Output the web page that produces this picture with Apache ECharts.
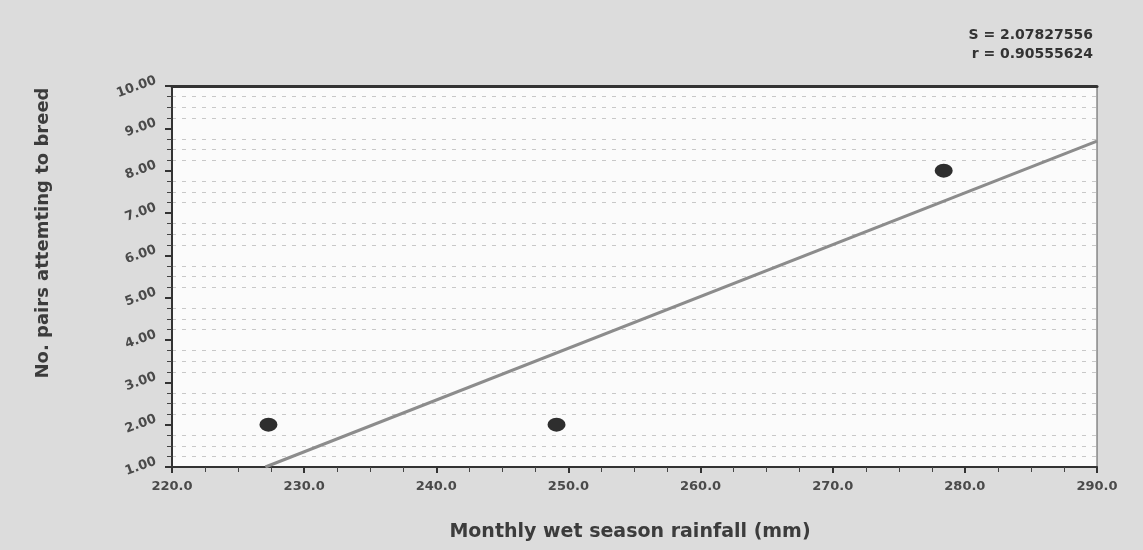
<!DOCTYPE html>
<html>
<head>
<meta charset="utf-8">
<script src="https://cdn.jsdelivr.net/npm/echarts@6/dist/echarts.min.js"></script>
<style>
html,body{margin:0;padding:0;background:#dcdcdc;}
#c{width:1143px;height:550px;}
</style>
</head>
<body>
<div id="c"></div>
<script>
// Data
const rainfall = [227.3, 249.1, 278.4];   // Monthly wet season rainfall (mm)
const pairs = [2.0, 2.0, 8.0];            // No. pairs attempting to breed
const xTicks = [220, 230, 240, 250, 260, 270, 280, 290];
const yTicks = [1, 2, 3, 4, 5, 6, 7, 8, 9, 10];
const statLabels = ['S = 2.07827556', 'r = 0.90555624'];

// Least squares fit through the points
const n = rainfall.length;
const mx = rainfall.reduce((a, b) => a + b, 0) / n;
const my = pairs.reduce((a, b) => a + b, 0) / n;
let sxy = 0, sxx = 0;
for (let i = 0; i < n; i++) { sxy += (rainfall[i] - mx) * (pairs[i] - my); sxx += (rainfall[i] - mx) ** 2; }
const slope = sxy / sxx;
const intercept = my - slope * mx;
const yMin = yTicks[0], xMax = xTicks[xTicks.length - 1];
const fitLine = [[(yMin - intercept) / slope, yMin], [xMax, intercept + slope * xMax]];

const chart = echarts.init(document.getElementById('c'));
const tickFont = {fontFamily: 'DejaVu Sans', fontWeight: 'bold', fontSize: 13, color: '#4a4a4a'};
chart.setOption({
  backgroundColor: '#dcdcdc',
  animation: false,
  grid: {left: 172, right: 46, top: 86, bottom: 83, show: true, backgroundColor: '#fbfbfb', borderColor: '#555', borderWidth: 1},
  xAxis: [{
    type: 'value', min: xTicks[0], max: xMax, interval: 10,
    axisLine: {show: true, onZero: false, lineStyle: {color: '#333', width: 2}},
    axisTick: {show: true, length: 6, lineStyle: {color: '#333', width: 2}},
    minorTick: {show: true, splitNumber: 4, length: 5, lineStyle: {color: '#444', width: 1}},
    splitLine: {show: false},
    axisLabel: Object.assign({margin: 13, formatter: v => v.toFixed(1)}, tickFont)
  }, {
    type: 'value', position: 'top', min: xTicks[0], max: xMax,
    axisLine: {show: true, lineStyle: {color: '#333', width: 3}},
    axisTick: {show: false}, axisLabel: {show: false}, splitLine: {show: false}
  }],
  yAxis: {
    type: 'value', min: yMin, max: yTicks[yTicks.length - 1], interval: 1,
    axisLine: {show: true, onZero: false, lineStyle: {color: '#333', width: 2}},
    axisTick: {show: true, length: 7, lineStyle: {color: '#333', width: 2}},
    minorTick: {show: true, splitNumber: 4, length: 5, lineStyle: {color: '#444', width: 1}},
    splitLine: {show: false},
    minorSplitLine: {show: true, lineStyle: {color: '#c8c8c8', type: [4, 6], width: 1}},
    axisLabel: Object.assign({margin: 14, rotate: 20, verticalAlign: 'bottom', formatter: v => v.toFixed(2)}, tickFont)
  },
  graphic: [
    {type: 'text', right: 50, top: 28, style: {text: statLabels[0], font: 'bold 14px "DejaVu Sans"', fill: '#333', textAlign: 'right'}},
    {type: 'text', right: 50, top: 47, style: {text: statLabels[1], font: 'bold 14px "DejaVu Sans"', fill: '#333', textAlign: 'right'}},
    {type: 'text', x: 43, y: 233, rotation: Math.PI / 2, style: {text: 'No. pairs attemting to breed', font: 'bold 18px "DejaVu Sans"', fill: '#3c3c3c', textAlign: 'center', textVerticalAlign: 'middle'}},
    {type: 'text', x: 630, y: 532, style: {text: 'Monthly wet season rainfall (mm)', font: 'bold 19px "DejaVu Sans"', fill: '#3c3c3c', textAlign: 'center', textVerticalAlign: 'middle'}}
  ],
  series: [{
    type: 'line', data: fitLine, symbol: 'none', silent: true,
    lineStyle: {color: '#8c8c8c', width: 3}, z: 2
  }, {
    type: 'scatter', data: rainfall.map((x, i) => [x, pairs[i]]),
    symbol: 'circle', symbolSize: [18, 14],
    itemStyle: {color: '#2e2e2e', opacity: 1}, z: 3
  }]
});
</script>
</body>
</html>
